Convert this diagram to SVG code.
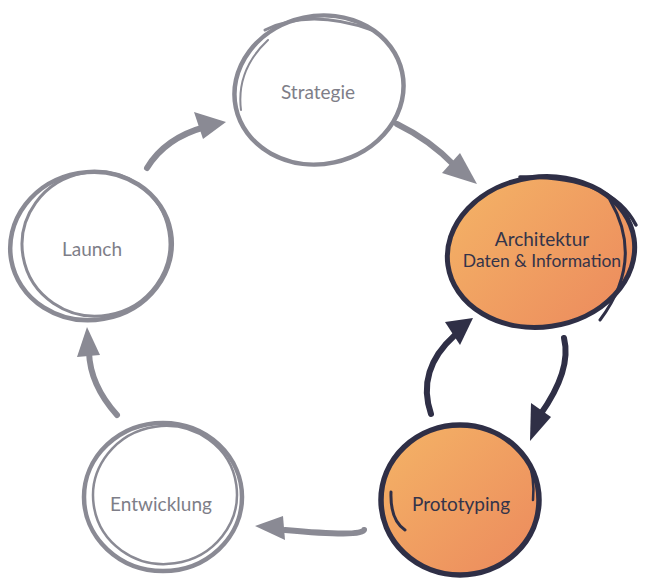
<svg xmlns="http://www.w3.org/2000/svg" width="647" height="580" viewBox="0 0 647 580">
<defs>
<linearGradient id="og" x1="0" y1="0" x2="1" y2="1">
<stop offset="0" stop-color="#f4b466"/>
<stop offset="1" stop-color="#ec895d"/>
</linearGradient>
<style>
.g{fill:none;stroke:#8a8a94;stroke-linecap:round}
.d{fill:none;stroke:#2f2f46;stroke-linecap:round}
.of{fill:url(#og);stroke:#2f2f46}
.gh{fill:#8a8a94}
.dh{fill:#2f2f46}
.t{font-family:Lato,"Open Sans","Liberation Sans",sans-serif;font-size:19px;text-anchor:middle}
.tg{fill:#7e7e88}
.td{fill:#34344a}
</style>
</defs>
<rect width="647" height="580" fill="#ffffff"/>

<g id="connectors">
<path class="g" stroke-width="6" d="M147,168 Q165,138 205,127"/>
<polygon class="gh" points="194,112 226,122 203,139"/>
<path class="g" stroke-width="6" d="M397,124 Q430,140 455,166"/>
<polygon class="gh" points="442,173 460,153 477,184"/>
<path class="d" stroke-width="6" d="M564,338 Q572,370 540,415"/>
<polygon class="dh" points="531,403 551,417 530,441"/>
<path class="d" stroke-width="6" d="M431,414 Q416,370 455,335"/>
<polygon class="dh" points="445,322 473,318 460,345"/>
<path class="g" stroke-width="6" d="M364,530 Q362,537 285,530"/>
<polygon class="gh" points="255,526 283,516 285,540"/>
<path class="g" stroke-width="6" d="M117,415 Q90,385 89,352"/>
<polygon class="gh" points="87,327 77,357 100,355"/>
</g>

<g id="strategie">
<ellipse class="g" stroke-width="4.5" cx="319" cy="90" rx="85" ry="74" transform="rotate(-12 319 90)"/>
<path class="g" stroke-width="3" d="M265,30 Q310,8 372,30"/>
<path class="g" stroke-width="2" d="M241,110 Q236,70 268,40"/>
<text class="t tg" x="318" y="99">Strategie</text>
</g>

<g id="launch">
<ellipse class="g" stroke-width="4.5" cx="91" cy="246" rx="81" ry="74" transform="rotate(-10 91 246)"/>
<ellipse class="g" stroke-width="3" cx="96" cy="244" rx="74" ry="72" transform="rotate(-10 96 244)"/>
<text class="t tg" x="92" y="256">Launch</text>
</g>

<g id="entwicklung">
<ellipse class="g" stroke-width="4.5" cx="163" cy="497" rx="79" ry="74"/>
<ellipse class="g" stroke-width="2.5" cx="165" cy="495" rx="72" ry="69" transform="rotate(-8 165 495)"/>
<text class="t tg" x="161" y="511">Entwicklung</text>
</g>

<g id="architektur">
<ellipse class="of" stroke-width="5" cx="541" cy="252" rx="94" ry="75" transform="rotate(-8 541 252)"/>
<path class="d" stroke-width="3.5" d="M520,177 Q610,175 636,225"/>
<path class="d" stroke-width="3" d="M610,200 Q645,260 600,320"/>
<text class="t td" x="542" y="246">Architektur</text>
<text class="t td" x="542" y="267" style="font-size:17.5px">Daten &amp; Information</text>
</g>

<g id="prototyping">
<ellipse class="of" stroke-width="5.5" cx="460" cy="500" rx="79" ry="75"/>
<path class="d" stroke-width="3" d="M391,492 Q390,520 405,530"/>
<path class="d" stroke-width="2.5" d="M528,460 Q535,478 533,500"/>
<text class="t td" x="461" y="511">Prototyping</text>
</g>
</svg>
